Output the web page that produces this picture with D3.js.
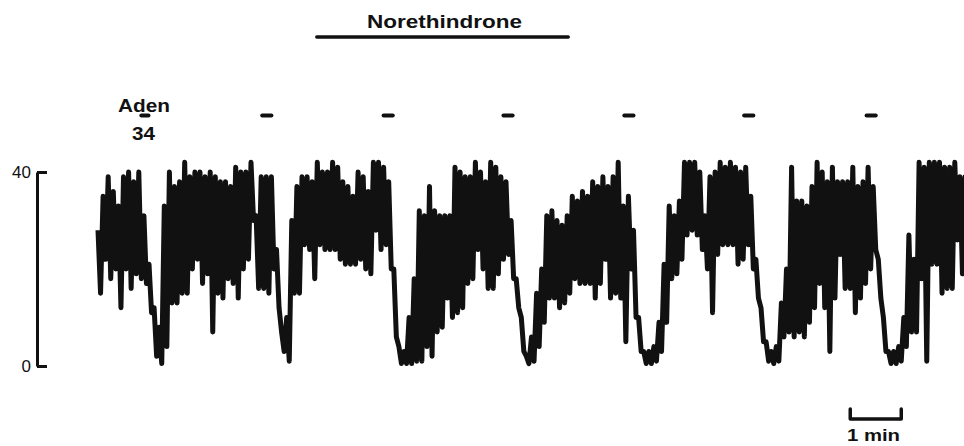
<!DOCTYPE html>
<html>
<head>
<meta charset="utf-8">
<script src="https://cdn.jsdelivr.net/npm/d3@7"></script>
<style>
  body { margin: 0; background: #fff; }
  text { font-family: "Liberation Sans", Arial, sans-serif; fill: #111; }
</style>
</head>
<body>
<div id="chart"></div>
<script>
// tension trace, read every 0.1 min: peak (upper) then dip (lower) of the record
const sampleStep = 0.1;
const upper = [
  28, 35, 39, 36, 33, 39, 40, 38, 40, 31,
  21, 12, 8, 33, 40, 37, 38, 42, 39, 40,
  40, 39, 40, 39, 38, 38, 37, 41, 40, 40,
  42, 31, 39, 39, 39, 24, 7, 10, 30, 37,
  39, 39, 38, 42, 40, 40, 42, 41, 38, 37,
  35, 40, 39, 36, 42, 42, 41, 38, 20, 4,
  3, 10, 18, 32, 31, 37, 32, 31, 31, 31,
  41, 40, 39, 39, 42, 40, 38, 42, 41, 39,
  38, 30, 18, 10, 2, 6, 15, 20, 31, 32,
  30, 29, 31, 35, 34, 36, 35, 38, 37, 39,
  37, 39, 42, 33, 35, 28, 10, 3, 3, 4,
  9, 21, 33, 31, 34, 42, 42, 42, 40, 31,
  39, 40, 42, 41, 42, 41, 40, 41, 35, 22,
  12, 5, 3, 4, 13, 20, 41, 34, 34, 33,
  37, 42, 40, 38, 41, 38, 38, 38, 41, 37,
  38, 41, 37, 22, 10, 3, 3, 4, 10, 27,
  22, 42, 41, 42, 42, 42, 41, 41, 42, 39, 39
];
const lower = [
  15, 22, 18, 20, 12, 20, 16, 19, 18, 17,
  11, 2, 0.5, 4, 13, 13, 15, 15, 20, 22,
  17, 19, 7, 15, 14, 18, 17, 14, 20, 22,
  30, 16, 16, 15, 20, 12, 3, 1, 15, 15,
  25, 24, 18, 25, 24, 24, 24, 22, 21, 21,
  21, 22, 20, 19, 28, 24, 25, 20, 6, 0.5,
  0.5, 0.5, 1, 1, 4, 2, 7, 8, 14, 10,
  11, 12, 17, 18, 24, 20, 16, 16, 19, 22,
  23, 18, 12, 3, 0.5, 1, 4, 9, 14, 14,
  12, 13, 15, 18, 17, 17, 17, 14, 17, 22,
  14, 15, 14, 5, 20, 10, 3, 0.5, 0.5, 1,
  3, 9, 18, 19, 22, 27, 28, 27, 24, 20,
  11, 23, 25, 25, 25, 21, 22, 25, 20, 14,
  5, 1, 0.5, 1, 6, 7, 6, 7, 6, 9,
  12, 17, 12, 3, 14, 23, 16, 16, 11, 14,
  17, 20, 24, 14, 3, 0.5, 0.5, 1, 4, 7,
  7, 18, 1, 21, 21, 15, 16, 16, 26, 19, 19
];
// adenosine pulses (min) and their lengths
const adenTimes = [0.92, 3.31, 5.69, 8.04, 10.41, 12.76, 15.16];
const adenWidths = [0.14, 0.18, 0.18, 0.18, 0.18, 0.18, 0.18];
const drugSpan = [4.29, 9.22];
const scaleBar = [14.75, 15.75];
const yTicks = [0, 40];

const width = 964, height = 446;

const svg = d3.select("#chart").append("svg")
    .attr("width", width)
    .attr("height", height);

const x = d3.scaleLinear().domain([0, 17]).range([98, 965]);
const y = d3.scaleLinear().domain([0, 40]).range([366, 172]);

// peak at each reading, dip half a step later
const trace = [];
upper.forEach((u, i) => {
    trace.push({ t: i * sampleStep, v: u });
    trace.push({ t: i * sampleStep + sampleStep / 2, v: lower[i] });
});

const line = d3.line()
    .x(d => x(d.t))
    .y(d => y(d.v));

svg.append("path")
    .datum(trace)
    .attr("d", line)
    .attr("fill", "none")
    .attr("stroke", "#111")
    .attr("stroke-width", 5)
    .attr("stroke-linejoin", "round");

// y bracket
const yAxis = svg.append("g")
    .attr("transform", "translate(37,0)")
    .call(d3.axisLeft(y).tickValues(yTicks).tickSizeInner(-10).tickSizeOuter(0).tickPadding(6));
yAxis.select(".domain").attr("stroke", "#111").attr("stroke-width", 3);
yAxis.selectAll(".tick line").attr("stroke", "#111").attr("stroke-width", 3);
yAxis.selectAll(".tick text")
    .style("font-family", "'Liberation Sans', Arial, sans-serif")
    .style("font-size", "17px")
    .attr("fill", "#111");

// drug bar
svg.append("line")
    .attr("x1", x(drugSpan[0])).attr("x2", x(drugSpan[1]))
    .attr("y1", 37).attr("y2", 37)
    .attr("stroke", "#111").attr("stroke-width", 3.5).attr("stroke-linecap", "round");

svg.append("text")
    .attr("x", 367).attr("y", 28)
    .attr("textLength", 155).attr("lengthAdjust", "spacingAndGlyphs")
    .style("font-size", "19px").style("font-weight", "bold")
    .text("Norethindrone");

// adenosine pulses
svg.selectAll(".aden")
    .data(adenTimes)
    .enter()
    .append("line")
    .attr("class", "aden")
    .attr("x1", (d, i) => x(d - adenWidths[i] / 2))
    .attr("x2", (d, i) => x(d + adenWidths[i] / 2))
    .attr("y1", 115.5).attr("y2", 115.5)
    .attr("stroke", "#111").attr("stroke-width", 4).attr("stroke-linecap", "round");

svg.append("text")
    .attr("x", 118).attr("y", 112)
    .attr("textLength", 52).attr("lengthAdjust", "spacingAndGlyphs")
    .style("font-size", "18px").style("font-weight", "bold")
    .text("Aden");

svg.append("text")
    .attr("x", 132).attr("y", 140)
    .attr("textLength", 23).attr("lengthAdjust", "spacingAndGlyphs")
    .style("font-size", "18px").style("font-weight", "bold")
    .text("34");

// time scale bar
svg.append("path")
    .attr("d", `M${x(scaleBar[0])},409V419H${x(scaleBar[1])}V409`)
    .attr("fill", "none")
    .attr("stroke", "#111").attr("stroke-width", 3.5)
    .attr("stroke-linejoin", "round").attr("stroke-linecap", "round");

svg.append("text")
    .attr("x", 847).attr("y", 441)
    .attr("textLength", 53).attr("lengthAdjust", "spacingAndGlyphs")
    .style("font-size", "16px").style("font-weight", "bold")
    .text("1 min");
</script>
</body>
</html>
